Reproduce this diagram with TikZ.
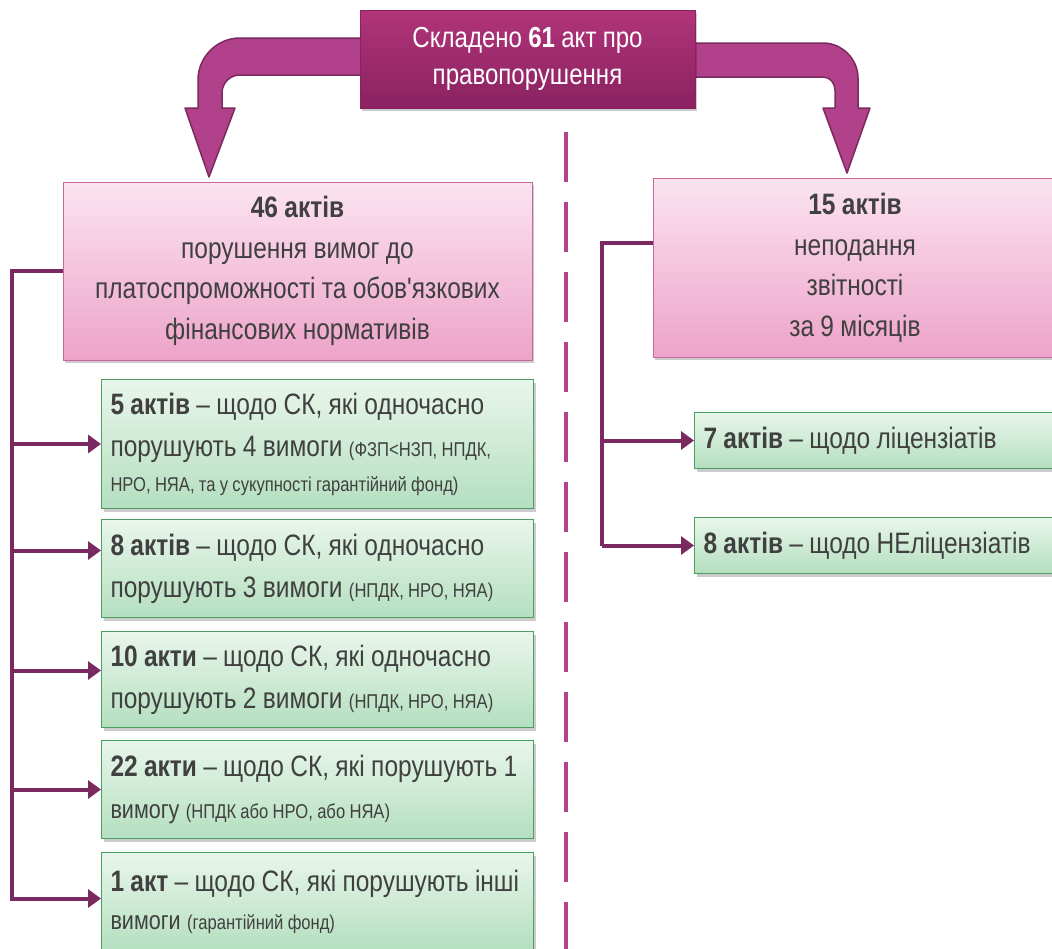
\documentclass[tikz,border=0pt]{standalone}
\usepackage{fontspec}
\setmainfont{Liberation Sans}[FakeStretch=0.83,WordSpace=0.93,Ligatures=TeXOff]
\usetikzlibrary{shadows,arrows.meta}
\definecolor{topA}{HTML}{B13479}
\definecolor{topB}{HTML}{8A2262}
\definecolor{arrF}{HTML}{B1418A}
\definecolor{arrD}{HTML}{7B2A60}
\definecolor{pinkA}{HTML}{FBE4F0}
\definecolor{pinkB}{HTML}{EDA3C9}
\definecolor{pinkD}{HTML}{C8679C}
\definecolor{grnA}{HTML}{E9F6EC}
\definecolor{grnB}{HTML}{B4DFBF}
\definecolor{grnD}{HTML}{4E9E62}
\definecolor{brk}{HTML}{7A2A60}
\definecolor{dsh}{HTML}{B5428A}
\definecolor{txt}{HTML}{404040}
\newcommand{\fsm}{\fontsize{20}{24}\selectfont}
\newcommand{\fmd}{\fontsize{26}{30}\selectfont}
\begin{document}
\begin{tikzpicture}[x=1pt,y=-1pt,
  shad/.style={drop shadow={shadow xshift=2pt,shadow yshift=-3pt,opacity=0.2,fill=black}},
  topbox/.style={shad,draw=topB,line width=0.6pt,top color=topA,bottom color=topB,text=white,
    align=center,inner sep=0pt,font=\fontsize{29}{37}\selectfont},
  pinkbox/.style={shad,draw=pinkD,line width=1pt,top color=pinkA,bottom color=pinkB,text=txt,
    align=center,inner sep=0pt,font=\fontsize{29.5}{40.5}\selectfont},
  grnbox/.style={shad,draw=grnD,line width=1pt,top color=grnA,bottom color=grnB,text=txt,
    align=flush left,inner xsep=9pt,inner ysep=0pt,font=\fontsize{29.5}{42}\selectfont,anchor=north west},
  bigarrow/.style={fill=arrF,draw=arrD,line width=1.5pt,line join=round},
  brline/.style={draw=brk,line width=4pt},
  brarrow/.style={draw=brk,line width=4pt,-{Triangle[length=13pt,width=18pt]}},
  divider/.style={draw=dsh,line width=4pt,dash pattern=on 50pt off 20pt}
]
\clip (0,0) rectangle (1052,948);
\fill[white] (0,0) rectangle (1052,948);

% big curved arrows
\path[bigarrow] (380,38) -- (240,38) .. controls (217,38) and (198,57) .. (198,80)
  -- (198,108) -- (185,108) -- (209,177) -- (235,108) -- (222,108) -- (222,93)
  .. controls (222,83) and (230,75) .. (240,75) -- (380,75) -- cycle;
\path[bigarrow] (680,43) -- (823,43) .. controls (842,43) and (858,59) .. (858,78)
  -- (858,108) -- (870,108) -- (847,173) -- (823,108) -- (835,108) -- (835,90)
  .. controls (835,83) and (830,77) .. (823,77) -- (680,77) -- cycle;

% divider
\draw[divider] (566,132) -- (566,960);

% top box
\node[topbox,minimum width=335,minimum height=98] (top) at (527.5,59)
  {Складено \textbf{61} акт про\\правопорушення};

% pink boxes
\node[pinkbox,minimum width=469,minimum height=178] (pL) at (297.5,271)
  {\textbf{46 актів}\\порушення вимог до\\платоспроможності та обов'язкових\\фінансових нормативів};
\node[pinkbox,minimum width=404,minimum height=179] (pR) at (855,267.5)
  {\textbf{15 актів}\\неподання\\звітності\\за 9 місяців};

% green boxes left
\node[grnbox,text width=414,minimum height=129] (g1) at (101,379)
  {\textbf{5 актів} – щодо СК, які одночасно\\порушують 4 вимоги {\fsm (ФЗП<НЗП, НПДК,}\\[-7pt]{\fsm НРО, НЯА, та у сукупності гарантійний фонд)}};
\node[grnbox,text width=414,minimum height=98] (g2) at (101,519)
  {\textbf{8 актів} – щодо СК, які одночасно\\порушують 3 вимоги {\fsm (НПДК, НРО, НЯА)}};
\node[grnbox,text width=414,minimum height=96] (g3) at (101,631)
  {\textbf{10 акти} – щодо СК, які одночасно\\порушують 2 вимоги {\fsm (НПДК, НРО, НЯА)}};
\node[grnbox,text width=414,minimum height=98] (g4) at (101,740)
  {\textbf{22 акти} – щодо СК, які порушують 1\\{\fmd вимогу} {\fsm (НПДК або НРО, або НЯА)}};
\node[grnbox,text width=414,minimum height=98] (g5) at (101,852)
  {\textbf{1 акт} – щодо СК, які порушують інші\\[-4pt]{\fmd вимоги} {\fsm (гарантійний фонд)}};

% green boxes right
\node[grnbox,text width=348,minimum height=56] (g6) at (694,412)
  {\textbf{7 актів} – щодо ліцензіатів};
\node[grnbox,text width=348,minimum height=56] (g7) at (694,517)
  {\textbf{8 актів} – щодо НЕліцензіатів};

% left bracket
\coordinate (lx) at (12,0);
\coordinate (a1) at (g1.west);
\coordinate (a2) at ([yshift=18pt]g2.west);
\coordinate (a3) at ([yshift=9pt]g3.west);
\coordinate (a4) at (g4.west);
\coordinate (a5) at ([yshift=3pt]g5.west);
\draw[brline] (pL.west) -| (lx |- a5) -- ([xshift=-14pt]a5);
\draw[brarrow] (lx |- a5) -- (a5);
\draw[brarrow] (lx |- a1) -- (a1);
\draw[brarrow] (lx |- a2) -- (a2);
\draw[brarrow] (lx |- a3) -- (a3);
\draw[brarrow] (lx |- a4) -- (a4);

% right bracket
\coordinate (rx) at (602,0);
\coordinate (rs) at ([yshift=25pt]pR.west);
\draw[brline] (rs) -| (rx |- g7.west);
\draw[brarrow] (rx |- g6.west) -- (g6.west);
\draw[brarrow] (rx |- g7.west) -- (g7.west);
\end{tikzpicture}
\end{document}
